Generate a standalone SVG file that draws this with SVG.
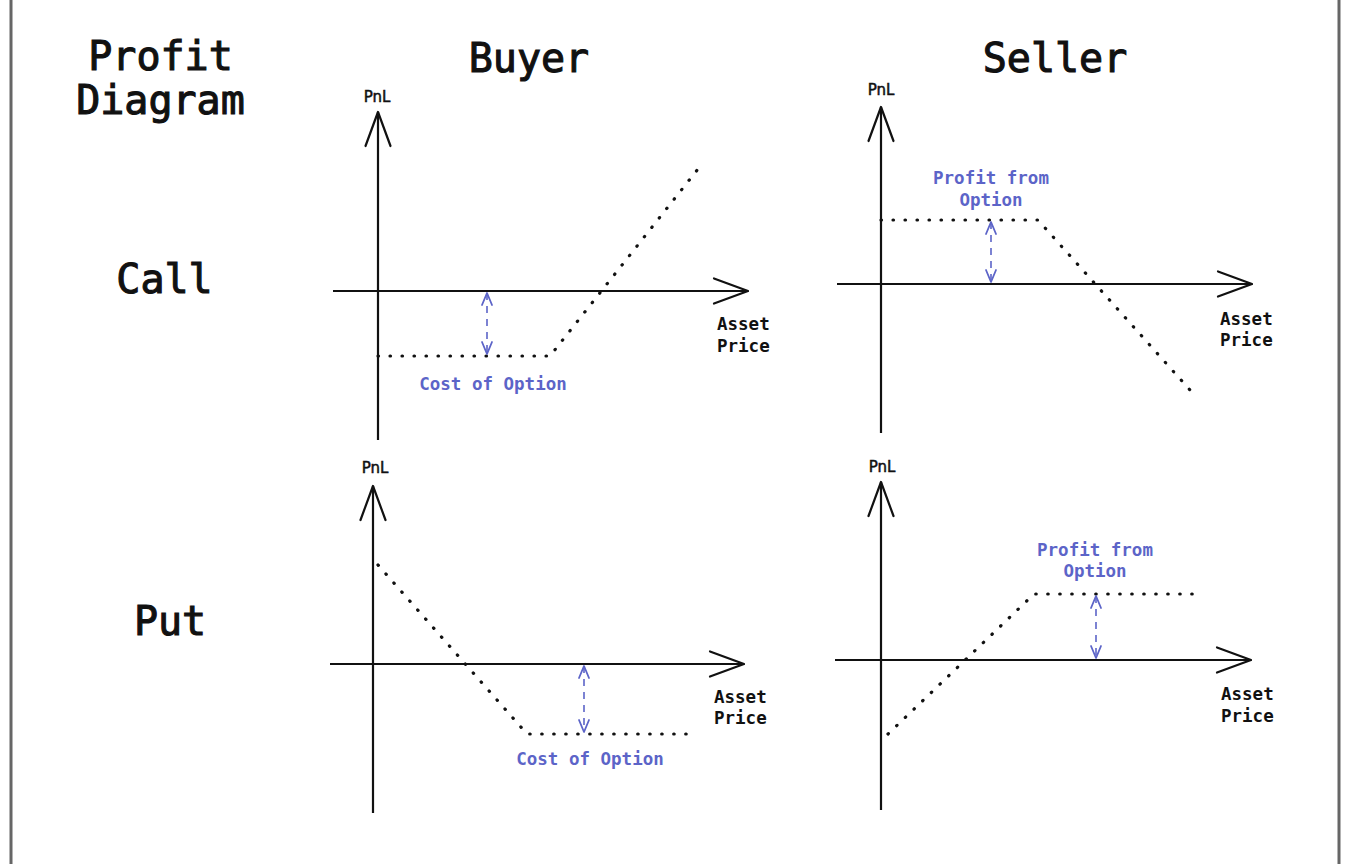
<svg xmlns="http://www.w3.org/2000/svg" width="1354" height="864" viewBox="0 0 1354 864">
<style>
  .title { font-family: "DejaVu Sans Mono", "Liberation Mono", monospace; font-size: 40px; font-weight: normal; fill: #111; stroke: #111; stroke-width: 1.1px; text-anchor: middle; }
  .pnl { font-family: "DejaVu Sans", "Noto Sans", sans-serif; font-size: 15px; font-weight: normal; fill: #111; stroke: #111; stroke-width: 0.5px; text-anchor: middle; }
  .lbl { font-family: "DejaVu Sans Mono", "Liberation Mono", monospace; font-size: 17.5px; font-weight: bold; fill: #111; }
  .note { font-family: "DejaVu Sans Mono", "Liberation Mono", monospace; font-size: 17.5px; font-weight: bold; fill: #5c64c8; text-anchor: middle; }
  .axis { stroke: #111; stroke-width: 2.2; fill: none; marker-end: url(#ax); }
  .pay { stroke: #111; stroke-width: 3.2; fill: none; stroke-dasharray: 0.5 11.5; stroke-linecap: round; stroke-linejoin: round; }
  .gap { stroke: #5c64c8; stroke-width: 1.6; fill: none; stroke-dasharray: 7 6; marker-start: url(#bl); marker-end: url(#bl); }
  .border { stroke: #666; stroke-width: 3; }
</style>
<defs>
  <marker id="ax" markerUnits="userSpaceOnUse" viewBox="-40 -20 45 40" markerWidth="45" markerHeight="40" refX="0" refY="0" orient="auto" overflow="visible">
    <path d="M-34,-12.5 L0,0 L-34,12.5" fill="none" stroke="#111" stroke-width="2.2" stroke-linecap="round" stroke-linejoin="round"/>
  </marker>
  <marker id="bl" markerUnits="userSpaceOnUse" viewBox="-15 -8 18 16" markerWidth="18" markerHeight="16" refX="0" refY="0" orient="auto-start-reverse" overflow="visible">
    <path d="M-12,-5 L0,0 L-12,5" fill="none" stroke="#5c64c8" stroke-width="1.8" stroke-linecap="round" stroke-linejoin="round"/>
  </marker>
</defs>
<rect x="0" y="0" width="1354" height="864" fill="#ffffff"/>
<line class="border" x1="11" y1="0" x2="11" y2="864"/>
<line class="border" x1="1339" y1="0" x2="1339" y2="864"/>

<g id="headers">
  <text class="title" x="160.5" y="70">Profit</text>
  <text class="title" x="160.5" y="114">Diagram</text>
  <text class="title" x="529" y="72">Buyer</text>
  <text class="title" x="1055" y="72">Seller</text>
  <text class="title" x="164.5" y="293">Call</text>
  <text class="title" x="170" y="635">Put</text>
</g>

<g id="buyer-call">
  <text class="pnl" x="377" y="102">PnL</text>
  <text class="lbl" x="717" y="330">Asset</text>
  <text class="lbl" x="717" y="352">Price</text>
  <text class="note" x="493" y="390">Cost of Option</text>
</g>
<g id="seller-call">
  <text class="pnl" x="881" y="95">PnL</text>
  <text class="lbl" x="1220" y="325">Asset</text>
  <text class="lbl" x="1220" y="346">Price</text>
  <text class="note" x="991" y="184">Profit from</text>
  <text class="note" x="991" y="206">Option</text>
</g>
<g id="buyer-put">
  <text class="pnl" x="375" y="473">PnL</text>
  <text class="lbl" x="714" y="703">Asset</text>
  <text class="lbl" x="714" y="724">Price</text>
  <text class="note" x="590" y="765">Cost of Option</text>
</g>
<g id="seller-put">
  <text class="pnl" x="882" y="472">PnL</text>
  <text class="lbl" x="1221" y="700">Asset</text>
  <text class="lbl" x="1221" y="722">Price</text>
  <text class="note" x="1095" y="556">Profit from</text>
  <text class="note" x="1095" y="577">Option</text>
</g>

<g id="connectors">
  <!-- buyer call -->
  <line class="axis" x1="378" y1="440" x2="378" y2="112"/>
  <line class="axis" x1="333" y1="291" x2="748" y2="291"/>
  <path class="pay" d="M378,356 L550,356 L698,169"/>
  <line class="gap" x1="487" y1="293" x2="487" y2="354"/>
  <!-- seller call -->
  <line class="axis" x1="881" y1="433" x2="881" y2="107"/>
  <line class="axis" x1="837" y1="284" x2="1252" y2="284"/>
  <path class="pay" d="M881,220 L1038,220 L1190,390"/>
  <line class="gap" x1="991" y1="222" x2="991" y2="282"/>
  <!-- buyer put -->
  <line class="axis" x1="373" y1="813" x2="373" y2="486"/>
  <line class="axis" x1="330" y1="664" x2="744" y2="664"/>
  <path class="pay" d="M378,565 L527,734 L687,734"/>
  <line class="gap" x1="584" y1="666" x2="584" y2="732"/>
  <!-- seller put -->
  <line class="axis" x1="881" y1="810" x2="881" y2="482"/>
  <line class="axis" x1="835" y1="660" x2="1251" y2="660"/>
  <path class="pay" d="M888,734 L1034,594 L1198,594"/>
  <line class="gap" x1="1096" y1="596" x2="1096" y2="658"/>
</g>
</svg>
